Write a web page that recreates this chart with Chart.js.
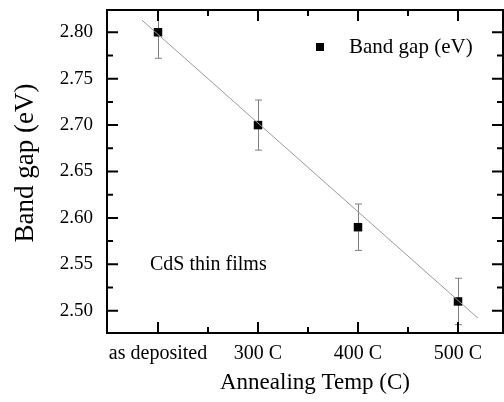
<!DOCTYPE html>
<html>
<head>
<meta charset="utf-8">
<script src="https://cdn.jsdelivr.net/npm/chart.js@4/dist/chart.umd.min.js"></script>
<style>
  html, body { margin: 0; padding: 0; background: #fff; }
  #wrap { width: 504px; height: 402px; }
</style>
</head>
<body>
<div id="wrap"><canvas id="chart" width="504" height="402"></canvas></div>
<script>
const categories = ['as deposited', '300 C', '400 C', '500 C']
const bandGap = [2.80, 2.70, 2.59, 2.51]
const bandGapErr = [0.028, 0.027, 0.025, 0.025]
// straight fit line, two end points
const fitX = [-0.16, 3.2]
const fitY = [2.813, 2.492]
const yTicks = [2.50, 2.55, 2.60, 2.65, 2.70, 2.75, 2.80]
const yMinor = [2.525, 2.575, 2.625, 2.675, 2.725, 2.775]
const xTicks = [0, 1, 2, 3]
const xMinor = [0.5, 1.5, 2.5]
const xTitle = 'Annealing Temp (C)'
const yTitle = 'Band gap (eV)'

const serif = '"Liberation Serif", "Times New Roman", serif'

// error bars under the squares
const errorBars = {
    id: 'errorBars',
    beforeDatasetDraw(chart, args) {
        if (args.index !== 1) return
        const { ctx, chartArea } = chart
        const x = chart.scales.x
        const y = chart.scales.y
        ctx.save()
        ctx.beginPath()
        ctx.rect(chartArea.left, chartArea.top, chartArea.width, chartArea.height)
        ctx.clip()
        ctx.strokeStyle = '#808080'
        ctx.lineWidth = 1
        bandGap.forEach((v, i) => {
            const px = Math.round(x.getPixelForValue(i)) + 0.5
            const top = y.getPixelForValue(v + bandGapErr[i])
            const bot = y.getPixelForValue(v - bandGapErr[i])
            ctx.beginPath()
            ctx.moveTo(px, top); ctx.lineTo(px, bot)
            ctx.moveTo(px - 3.5, top); ctx.lineTo(px + 3.5, top)
            ctx.moveTo(px - 3.5, bot); ctx.lineTo(px + 3.5, bot)
            ctx.stroke()
        })
        ctx.restore()
    }
}

// box frame with inward ticks on all four sides, titles and text notes
const frame = {
    id: 'frame',
    afterDraw(chart) {
        const { ctx, chartArea } = chart
        const { left, right, top, bottom } = chartArea
        const x = chart.scales.x
        const y = chart.scales.y
        ctx.save()
        ctx.strokeStyle = '#000'
        ctx.lineWidth = 2
        ctx.strokeRect(left, top, right - left, bottom - top)
        const tick = (vals, len) => {
            vals.forEach(v => {
                const px = x.getPixelForValue(v)
                ctx.beginPath()
                ctx.moveTo(px, bottom); ctx.lineTo(px, bottom - len)
                ctx.moveTo(px, top); ctx.lineTo(px, top + len)
                ctx.stroke()
            })
        }
        const ytick = (vals, len) => {
            vals.forEach(v => {
                const py = y.getPixelForValue(v)
                ctx.beginPath()
                ctx.moveTo(left, py); ctx.lineTo(left + len, py)
                ctx.moveTo(right, py); ctx.lineTo(right - len, py)
                ctx.stroke()
            })
        }
        tick(xTicks, 11)
        tick(xMinor, 6)
        ytick(yTicks, 11)
        ytick(yMinor, 6)

        ctx.fillStyle = '#000'
        // axis titles
        ctx.textAlign = 'center'
        ctx.textBaseline = 'middle'
        ctx.font = '23px ' + serif
        ctx.fillText(xTitle, 315, 383)
        ctx.save()
        ctx.translate(26, 163)
        ctx.rotate(-Math.PI / 2)
        ctx.font = '27px ' + serif
        ctx.fillText(yTitle, 0, 0)
        ctx.restore()

        // legend entry
        ctx.fillRect(316, 43, 8, 8)
        ctx.font = '21px ' + serif
        ctx.textBaseline = 'alphabetic'
        ctx.textAlign = 'left'
        ctx.fillText('Band gap (eV)', 349, 53)
        ctx.font = '20px ' + serif
        ctx.fillText('CdS thin films', 150, 270)
        ctx.restore()
    }
}

new Chart(document.getElementById('chart'), {
    type: 'scatter',
    data: {
        datasets: [
            {
                label: 'fit',
                data: fitX.map((v, i) => ({ x: v, y: fitY[i] })),
                showLine: true,
                borderColor: '#9a9a9a',
                borderWidth: 1,
                pointRadius: 0
            },
            {
                label: 'Band gap (eV)',
                data: bandGap.map((v, i) => ({ x: i, y: v })),
                pointStyle: 'rect',
                pointRadius: 6,
                backgroundColor: '#000',
                borderColor: '#000',
                borderWidth: 0
            }
        ]
    },
    options: {
        responsive: false,
        animation: false,
        devicePixelRatio: 1,
        layout: { autoPadding: false, padding: { top: 10, right: 1, left: 0, bottom: 0 } },
        plugins: {
            legend: { display: false },
            tooltip: { enabled: false }
        },
        scales: {
            x: {
                type: 'linear',
                min: -0.51,
                max: 3.45,
                afterFit(scale) {
                    scale.height = 69
                    scale.paddingLeft = 0
                    scale.paddingRight = 0
                },
                afterBuildTicks(scale) { scale.ticks = xTicks.map(v => ({ value: v })) },
                grid: { display: false, drawTicks: false },
                border: { display: false },
                ticks: {
                    color: '#000',
                    font: { family: serif, size: 20 },
                    padding: 9,
                    maxRotation: 0,
                    autoSkip: false,
                    callback: v => categories[v]
                }
            },
            y: {
                type: 'linear',
                min: 2.476,
                max: 2.824,
                afterFit(scale) {
                    scale.width = 107
                    scale.paddingTop = 0
                    scale.paddingBottom = 0
                },
                afterBuildTicks(scale) { scale.ticks = yTicks.map(v => ({ value: v })) },
                grid: { display: false, drawTicks: false },
                border: { display: false },
                ticks: {
                    color: '#000',
                    font: { family: serif, size: 19 },
                    padding: 14,
                    autoSkip: false,
                    callback: v => v.toFixed(2)
                }
            }
        }
    },
    plugins: [errorBars, frame]
})
</script>
</body>
</html>
